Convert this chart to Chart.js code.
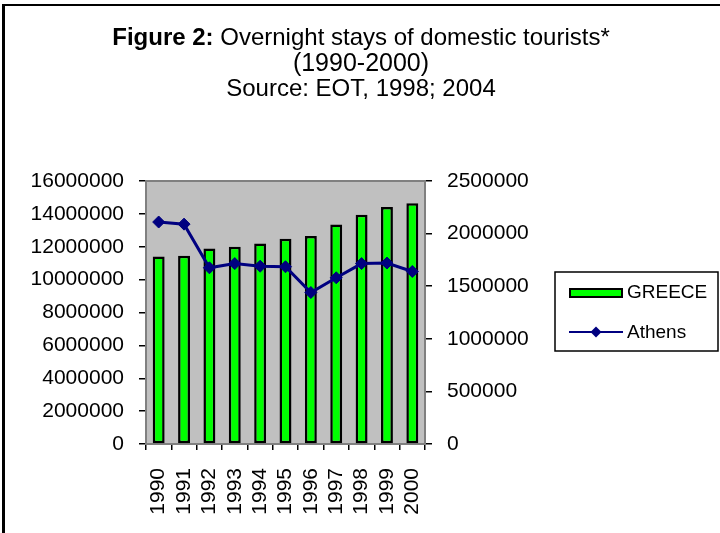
<!DOCTYPE html>
<html>
<head>
<meta charset="utf-8">
<script src="https://cdn.jsdelivr.net/npm/chart.js@4"></script>
<style>
  html, body { margin: 0; padding: 0; background: #fff; overflow: hidden; }
  #wrap { position: relative; width: 720px; height: 533px; }
  #frame { position: absolute; left: 2px; top: 4px; width: 800px; height: 600px;
           border-left: 3px solid #000; border-top: 2px solid #000; }
  #title { position: absolute; left: 0; top: 24px; width: 722px; text-align: center;
           font-family: Arial, "Liberation Sans", sans-serif; color: #000; font-size: 24px; line-height: 25px; }
  #title .l2 { font-size: 25px; margin-top: 1px; }
  canvas { position: absolute; left: 0; top: 0; }
</style>
</head>
<body>
<div id="wrap">
  <div id="frame"></div>
  <canvas id="chart" width="720" height="533"></canvas>
  <div id="title">
    <div><b>Figure 2:</b> Overnight stays of domestic tourists*</div>
    <div class="l2">(1990-2000)</div>
    <div>Source: EOT, 1998; 2004</div>
  </div>
</div>
<script>
const years   = ['1990','1991','1992','1993','1994','1995','1996','1997','1998','1999','2000'];
const greece  = [11400000, 11450000, 11900000, 12000000, 12200000, 12480000, 12650000, 13350000, 13950000, 14420000, 14650000];
const athens  = [2110000, 2090000, 1675000, 1715000, 1690000, 1685000, 1440000, 1580000, 1715000, 1720000, 1640000];
const leftTicks  = [0, 2000000, 4000000, 6000000, 8000000, 10000000, 12000000, 14000000, 16000000];
const rightTicks = [0, 500000, 1000000, 1500000, 2000000, 2500000];

const FONT = 'Arial, "Liberation Sans", sans-serif';

const plotFrame = {
    id: 'plotFrame',
    beforeDatasetsDraw(chart) {
        const { ctx, chartArea: a } = chart;
        ctx.save();
        ctx.fillStyle = '#c0c0c0';
        ctx.fillRect(a.left, a.top, a.right - a.left, a.bottom - a.top);
        ctx.strokeStyle = '#808080';
        ctx.lineWidth = 2;
        ctx.strokeRect(a.left, a.top, a.right - a.left, a.bottom - a.top);
        ctx.restore();
    },
};

// boxed legend on the right, bar entry first then line entry
const boxLegend = {
    id: 'boxLegend',
    afterDraw(chart) {
        const ctx = chart.ctx;
        const bar  = chart.data.datasets.find((d) => d.type !== 'line');
        const line = chart.data.datasets.find((d) => d.type === 'line');
        ctx.save();
        ctx.strokeStyle = '#000';
        ctx.lineWidth = 1.5;
        ctx.strokeRect(555, 272, 163, 79);

        ctx.font = '19px ' + FONT;
        ctx.textBaseline = 'middle';

        ctx.fillStyle = bar.backgroundColor;
        ctx.fillRect(570, 289, 52, 8);
        ctx.strokeStyle = '#000';
        ctx.lineWidth = 2;
        ctx.strokeRect(570, 289, 52, 8);
        ctx.fillStyle = '#000';
        ctx.fillText(bar.label, 627, 293);

        ctx.strokeStyle = line.borderColor;
        ctx.lineWidth = 2;
        ctx.beginPath();
        ctx.moveTo(569, 332);
        ctx.lineTo(623, 332);
        ctx.stroke();
        ctx.fillStyle = line.pointBackgroundColor;
        ctx.beginPath();
        ctx.moveTo(596 - 5.5, 332);
        ctx.lineTo(596, 332 - 5.5);
        ctx.lineTo(596 + 5.5, 332);
        ctx.lineTo(596, 332 + 5.5);
        ctx.closePath();
        ctx.fill();
        ctx.fillStyle = '#000';
        ctx.fillText(line.label, 627, 333);
        ctx.restore();
    },
};

const tickGrid = (len) => ({
    display: true,
    drawOnChartArea: false,
    drawTicks: true,
    tickLength: len,
    color: '#000',
    lineWidth: 1.5,
});

new Chart(document.getElementById('chart'), {
    type: 'bar',
    data: {
        labels: years,
        datasets: [
            {
                type: 'line',
                label: 'Athens',
                data: athens,
                yAxisID: 'y1',
                borderColor: '#000080',
                borderWidth: 3,
                pointStyle: 'rectRot',
                pointRadius: 6,
                pointBackgroundColor: '#000080',
                pointBorderColor: '#000080',
                pointBorderWidth: 1,
                tension: 0,
                order: 0,
            },
            {
                type: 'bar',
                label: 'GREECE',
                data: greece,
                yAxisID: 'y',
                backgroundColor: '#00ff00',
                borderColor: '#000',
                borderWidth: 2.5,
                borderSkipped: false,
                categoryPercentage: 1,
                barPercentage: 0.47,
                order: 1,
            },
        ],
    },
    options: {
        responsive: false,
        animation: false,
        layout: { padding: { left: 0, right: 175, top: 181, bottom: 0 } },
        plugins: { legend: { display: false }, title: { display: false }, tooltip: { enabled: false } },
        scales: {
            x: {
                grid: { ...tickGrid(6), offset: true },
                border: { display: false },
                ticks: { color: '#000', font: { family: FONT, size: 21 }, minRotation: 90, maxRotation: 90, autoSkip: false, padding: 18 },
                afterFit: (s) => { s.height = 89; },
            },
            y: {
                position: 'left',
                min: 0,
                max: 16000000,
                grid: tickGrid(7),
                border: { display: false },
                afterBuildTicks: (s) => { s.ticks = leftTicks.map((v) => ({ value: v })); },
                ticks: { color: '#000', font: { family: FONT, size: 21 }, padding: 15, callback: (v) => String(v) },
                afterFit: (s) => { s.width = 146; },
            },
            y1: {
                position: 'right',
                min: 0,
                max: 2500000,
                grid: tickGrid(7),
                border: { display: false },
                afterBuildTicks: (s) => { s.ticks = rightTicks.map((v) => ({ value: v })); },
                ticks: { color: '#000', font: { family: FONT, size: 21 }, padding: 15, callback: (v) => String(v) },
                afterFit: (s) => { s.width = 120; },
            },
        },
    },
    plugins: [plotFrame, boxLegend],
});
</script>
</body>
</html>
